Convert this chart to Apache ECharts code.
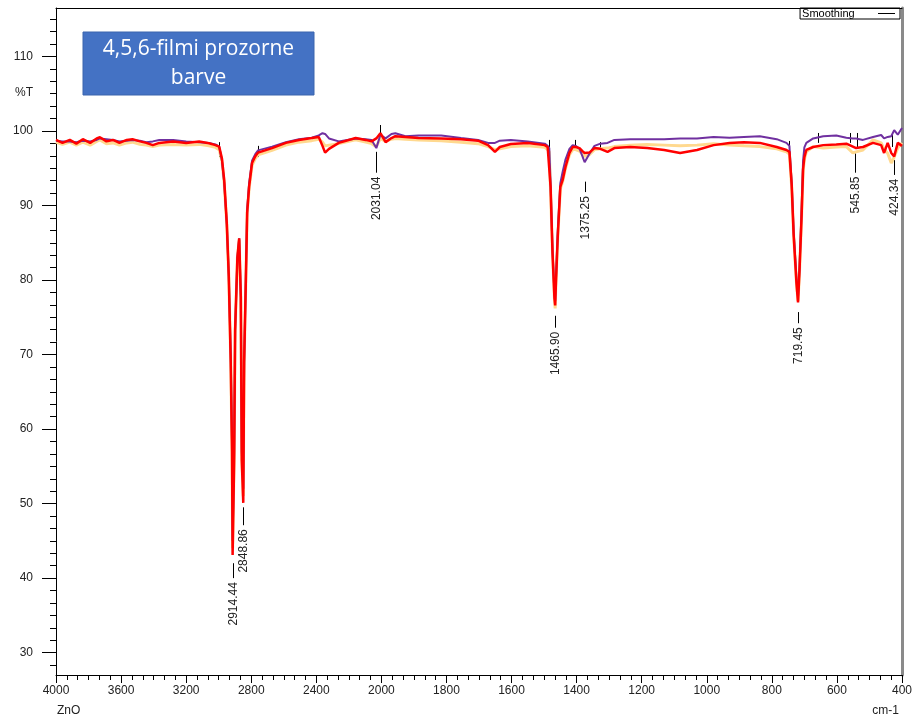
<!DOCTYPE html>
<html>
<head>
<meta charset="utf-8">
<script src="https://cdn.jsdelivr.net/npm/echarts@6/dist/echarts.min.js"></script>
<style>
  html, body { margin: 0; padding: 0; background: #fff; }
  #chart { width: 915px; height: 718px; }
</style>
</head>
<body>
<div id="chart"></div>
<script>
// spectrum, wavenumber in cm-1, values in %T
const wavenumbers = [
  4000, 3960, 3915, 3875, 3835, 3790, 3750, 3730, 3690, 3650,
  3610, 3565, 3530, 3485, 3445, 3405, 3365, 3280, 3200, 3120,
  3060, 3020, 2997, 2980, 2966, 2950, 2938, 2926, 2918, 2914.4,
  2905, 2899, 2885, 2874, 2864, 2858, 2848.9, 2843.6, 2833, 2825,
  2813, 2795, 2775, 2758, 2672, 2587, 2507, 2428, 2385, 2362,
  2346, 2322, 2262, 2158, 2097, 2060, 2031, 2006, 1987, 1969,
  1957, 1926, 1886, 1816, 1755, 1703, 1672, 1651, 1636, 1602,
  1550, 1498, 1489, 1484, 1480, 1474, 1468, 1465.9, 1464, 1458,
  1450, 1443, 1434, 1422, 1412, 1403, 1391, 1382, 1375.3, 1361,
  1345, 1327, 1305, 1284, 1235, 1183, 1131, 1082, 1030, 979,
  930, 886, 837, 785, 755, 746, 739, 733, 724, 719.5,
  715, 709, 704, 700, 694, 673, 642, 602, 571, 551,
  541, 520, 489, 464, 455, 444, 433, 424, 413, 400
];
const redT = [
  98.8, 98.4, 98.8, 98.3, 98.9, 98.4, 99.0, 99.15, 98.6, 98.8,
  98.4, 98.8, 98.9, 98.6, 98.4, 98.1, 98.4, 98.6, 98.4, 98.6,
  98.35, 98.1, 97.9, 96.3, 93.4, 87.5, 80.5, 69.0, 57.0, 43.1,
  55.8, 73.3, 83.0, 85.6, 77.7, 55.8, 50.1, 68.9, 80.0, 89.0,
  92.5, 95.7, 96.6, 97.1, 97.7, 98.4, 98.8, 99.05, 99.2, 98.0,
  97.1, 97.6, 98.4, 99.05, 98.8, 98.6, 99.0, 99.7, 98.5, 99.05,
  99.3, 99.2, 99.05, 99.0, 98.9, 98.7, 98.1, 97.2, 97.85, 98.25,
  98.4, 98.1, 97.85, 97.6, 92.5, 83.6, 77.5, 76.6, 79.1, 85.8,
  92.5, 93.4, 95.2, 97.05, 97.85, 97.85, 97.7, 97.3, 97.05, 97.1,
  97.7, 97.6, 97.2, 97.7, 97.85, 97.7, 97.45, 97.05, 97.45, 98.1,
  98.4, 98.5, 98.4, 97.85, 97.45, 97.2, 92.8, 86.1, 79.4, 77.0,
  81.3, 88.0, 94.8, 96.5, 97.45, 97.85, 98.1, 98.2, 98.3, 97.9,
  97.7, 97.85, 98.4, 98.1, 97.05, 98.4, 97.05, 96.6, 98.4, 98.0
];
const purpleT = [
  98.7, 98.6, 98.6, 98.5, 98.7, 98.6, 98.8, 99.0, 98.9, 98.8,
  98.6, 98.7, 98.8, 98.7, 98.5, 98.6, 98.8, 98.8, 98.6, 98.5,
  98.4, 98.2, 97.9, 96.0, 93.0, 87.5, 80.5, 70.0, 58.0, 45.0,
  57.0, 73.3, 83.0, 85.6, 77.7, 57.0, 52.0, 69.0, 80.5, 89.5,
  93.0, 96.0, 96.9, 97.4, 97.9, 98.5, 98.9, 99.1, 99.4, 99.7,
  99.6, 99.0, 98.6, 99.0, 98.9, 98.8, 97.7, 99.5, 99.0, 99.6,
  99.7, 99.3, 99.4, 99.4, 99.05, 98.8, 98.4, 98.4, 98.7, 98.8,
  98.6, 98.3, 98.0, 97.7, 93.0, 84.0, 78.0, 77.2, 79.5, 86.5,
  93.0, 94.5, 96.2, 97.6, 98.1, 98.0, 97.6, 96.6, 95.8, 96.9,
  98.0, 98.3, 98.4, 98.8, 98.9, 98.9, 98.9, 99.0, 99.0, 99.2,
  99.1, 99.2, 99.3, 98.9, 98.4, 98.0, 93.0, 86.5, 80.0, 77.8,
  81.5, 89.0, 96.0, 97.8, 98.4, 99.0, 99.3, 99.4, 99.1, 99.0,
  99.0, 98.8, 99.2, 99.46, 99.0, 99.2, 99.3, 100.1, 99.5, 100.4
];
const orangeT = [
  98.5, 98.2, 98.5, 98.1, 98.5, 98.1, 98.6, 98.8, 98.3, 98.4,
  98.1, 98.4, 98.5, 98.2, 98.1, 97.9, 98.1, 98.2, 98.1, 98.2,
  98.0, 97.8, 97.5, 96.0, 93.0, 87.5, 80.5, 69.5, 57.0, 44.0,
  56.0, 73.0, 83.0, 85.4, 77.5, 56.0, 51.0, 68.9, 80.0, 89.0,
  92.3, 95.4, 96.3, 96.8, 97.4, 98.1, 98.5, 98.7, 98.9, 98.5,
  98.0, 98.1, 98.3, 98.8, 98.5, 98.3, 97.9, 99.0, 98.6, 98.9,
  99.0, 98.9, 98.8, 98.7, 98.5, 98.3, 97.9, 97.5, 97.6, 97.9,
  98.0, 97.8, 97.5, 97.2, 92.0, 83.5, 77.4, 76.2, 79.0, 85.6,
  92.2, 93.2, 95.0, 96.8, 97.5, 97.5, 97.3, 96.9, 96.6, 96.8,
  97.5, 97.6, 97.7, 97.9, 98.1, 98.2, 98.1, 98.0, 98.1, 98.3,
  98.1, 98.0, 97.9, 97.6, 97.2, 96.9, 92.5, 86.0, 79.4, 77.2,
  81.0, 88.0, 94.5, 96.2, 97.2, 97.9, 97.7, 97.85, 97.9, 97.05,
  97.2, 97.45, 98.8, 98.4, 97.6, 97.0, 95.7, 96.5, 97.7, 98.4
];

const yTickLabels = [30, 40, 50, 60, 70, 80, 90, 100, 110];

// peak picks: wavenumber, label, and the %T span of the little leader line
const peakWavenumbers = [2914.44, 2848.86, 2031.04, 1465.90, 1375.25, 719.45, 545.85, 424.34];
const peakLabels = ['2914.44', '2848.86', '2031.04', '1465.90', '1375.25', '719.45', '545.85', '424.34'];
const peakLineTop = [42.0, 49.5, 97.2, 75.2, 93.2, 75.7, 97.0, 96.1];
const peakLineBottom = [40.0, 47.1, 94.4, 73.6, 91.8, 74.2, 94.4, 94.1];

// small black peak marks sitting on the curve
const markerWavenumbers = [2997, 2758, 2007, 1484, 1405, 1328, 746, 658, 559, 538, 430];
const markerTop = [98.5, 98.0, 100.8, 98.8, 98.8, 98.5, 98.66, 99.73, 99.73, 99.73, 99.46];
const markerBottom = [96.5, 96.5, 99.46, 97.85, 97.7, 97.45, 97.05, 98.4, 98.4, 97.7, 97.85];

const FONT = '"Liberation Sans", Arial, sans-serif';

// axis is half scale above 2000 cm-1
const toAxis = w => w > 2000 ? 2000 + (w - 2000) / 2 : w;
const fromAxis = t => t > 2000 ? 2000 + (t - 2000) * 2 : t;

const yMinor = [];
yTickLabels.concat([120]).forEach(v => {
  for (let k = 1; k < 6; k++) {
    const m = v - k * 10 / 6;
    if (m > 27 && m < 116.5) yMinor.push(m);
  }
});

const toSeries = arr => wavenumbers.map((w, i) => [toAxis(w), arr[i]]);

const chart = echarts.init(document.getElementById('chart'));

const option = {
  animation: false,
  backgroundColor: '#fff',
  grid: { left: 56, right: 8, top: 8, bottom: 43 },
  legend: {
    data: ['Smoothing'],
    right: 15,
    top: 8,
    align: 'right',
    icon: 'rect',
    itemWidth: 17,
    itemHeight: 1,
    borderColor: '#000',
    borderWidth: 1,
    borderRadius: 0,
    padding: [0, 5, 0, 2],
    formatter: n => n + '      ',
    textStyle: { fontSize: 11, color: '#000', fontFamily: FONT },
    selectedMode: false
  },
  xAxis: [
    {
      type: 'value',
      inverse: true,
      min: 400,
      max: 3000,
      interval: 200,
      position: 'bottom',
      axisLine: { show: true, lineStyle: { color: '#000', width: 1 } },
      axisTick: { show: true, length: 8, lineStyle: { color: '#000' } },
      minorTick: { show: true, splitNumber: 6, length: 5, lineStyle: { color: '#000' } },
      axisLabel: {
        formatter: v => String(fromAxis(v)),
        margin: 10,
        fontSize: 12,
        color: '#222',
        fontFamily: FONT,
        showMinLabel: true,
        showMaxLabel: true
      },
      splitLine: { show: false },
      minorSplitLine: { show: false }
    },
    {
      type: 'value',
      inverse: true,
      min: 400,
      max: 3000,
      position: 'top',
      axisLine: { show: true, lineStyle: { color: '#000', width: 1 } },
      axisTick: { show: false },
      axisLabel: { show: false },
      splitLine: { show: false }
    }
  ],
  yAxis: [
    {
      type: 'value',
      min: 27,
      max: 116.5,
      position: 'left',
      axisLine: { show: true, lineStyle: { color: '#000', width: 1 } },
      axisTick: { show: true, length: 14, customValues: yTickLabels, lineStyle: { color: '#000' } },
      axisLabel: { customValues: yTickLabels, margin: 23, fontSize: 12, color: '#222', fontFamily: FONT },
      splitLine: { show: false }
    },
    {
      type: 'value',
      min: 27,
      max: 116.5,
      position: 'left',
      axisLine: { show: false },
      axisTick: { show: true, length: 6, customValues: yMinor, lineStyle: { color: '#000' } },
      axisLabel: { show: false },
      splitLine: { show: false }
    },
    {
      type: 'value',
      min: 27,
      max: 116.5,
      position: 'right',
      axisLine: { show: true, lineStyle: { color: '#8a8a8a', width: 3 } },
      axisTick: { show: false },
      axisLabel: { show: false },
      splitLine: { show: false }
    }
  ],
  graphic: [
    {
      type: 'rect',
      shape: { x: 83, y: 32, width: 231, height: 63 },
      style: { fill: '#4472C4', stroke: '#3b64ad', lineWidth: 1 }
    },
    {
      type: 'text',
      x: 198.5,
      y: 64,
      style: {
        text: '4,5,6-filmi prozorne\nbarve',
        fill: '#fff',
        font: '21px "Open Sans", sans-serif',
        align: 'center',
        verticalAlign: 'middle',
        lineHeight: 29
      }
    },
    {
      type: 'text', x: 24, y: 93,
      style: { text: '%T', fill: '#222', font: '12px ' + FONT, align: 'center', verticalAlign: 'middle' }
    },
    {
      type: 'text', x: 57, y: 711,
      style: { text: 'ZnO', fill: '#222', font: '12px ' + FONT, align: 'left', verticalAlign: 'middle' }
    },
    {
      type: 'text', x: 899, y: 711,
      style: { text: 'cm-1', fill: '#222', font: '12px ' + FONT, align: 'right', verticalAlign: 'middle' }
    }
  ],
  series: [
    {
      name: 'orange', type: 'line', data: toSeries(orangeT), showSymbol: false, silent: true,
      lineStyle: { color: '#FFD98F', width: 3 }
    },
    {
      name: 'purple', type: 'line', data: toSeries(purpleT), showSymbol: false, silent: true,
      lineStyle: { color: '#7030A0', width: 2 }
    },
    {
      name: 'red', type: 'line', data: toSeries(redT), showSymbol: false, silent: true,
      lineStyle: { color: '#FF0000', width: 2.5 }
    },
    {
      name: 'Smoothing', type: 'line', data: [], color: '#000'
    },
    {
      name: 'markers', type: 'custom', silent: true,
      data: markerWavenumbers.map((w, i) => [toAxis(w), markerTop[i], markerBottom[i]]),
      renderItem: (params, api) => {
        const a = api.coord([api.value(0), api.value(1)]);
        const b = api.coord([api.value(0), api.value(2)]);
        const x = Math.round(a[0]) + 0.5;
        return { type: 'line', shape: { x1: x, y1: a[1], x2: x, y2: b[1] }, style: { stroke: '#000', lineWidth: 1 } };
      }
    },
    {
      name: 'peaks', type: 'custom', silent: true,
      data: peakWavenumbers.map((w, i) => [toAxis(w), peakLineTop[i], peakLineBottom[i]]),
      renderItem: (params, api) => {
        const a = api.coord([api.value(0), api.value(1)]);
        const b = api.coord([api.value(0), api.value(2)]);
        const x = Math.round(a[0]) + 0.5;
        return {
          type: 'group',
          children: [
            { type: 'line', shape: { x1: x, y1: a[1], x2: x, y2: b[1] }, style: { stroke: '#000', lineWidth: 1 } },
            {
              type: 'text', x: x, y: b[1] + 4, rotation: Math.PI / 2,
              style: {
                text: peakLabels[params.dataIndex], align: 'right', verticalAlign: 'middle',
                fill: '#222', font: '12px ' + FONT
              }
            }
          ]
        };
      }
    }
  ]
};

chart.setOption(option);
</script>
</body>
</html>
